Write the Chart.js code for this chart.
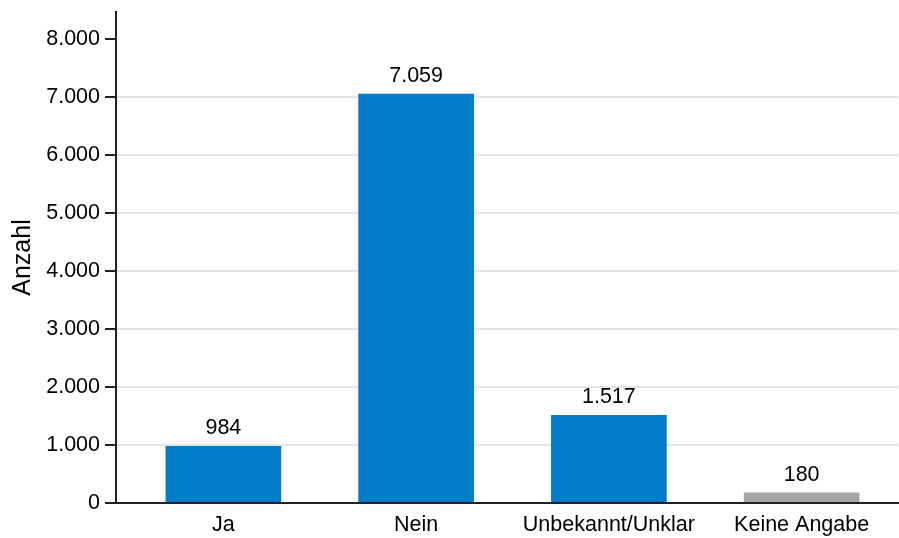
<!DOCTYPE html>
<html lang="de">
<head>
  <meta charset="UTF-8" />
  <title>Anzahl</title>
  <script src="https://cdn.jsdelivr.net/npm/chart.js"></script>
  <style>
    html,body { margin:0; padding:0; background:#fff; }
    #box      { width:899px; height:538px; }
  </style>
</head>
<body>
<div id="box"><canvas id="chart"></canvas></div>

<script>
  /* ---------- data ---------- */
  const categories = ['Ja', 'Nein', 'Unbekannt/Unklar', 'Keine Angabe'];
  const counts     = [984, 7059, 1517, 180];
  const barColors  = ['#007CC8', '#007CC8', '#007CC8', '#A6A6A6'];
  const yTicks     = [0, 1000, 2000, 3000, 4000, 5000, 6000, 7000, 8000];
  const yMax       = 8470;

  /* ---------- helpers ---------- */
  const FONT = '"Liberation Sans", Arial, sans-serif';
  const SIZE = 21.5;
  const fmt  = v => String(Math.round(v)).replace(/\B(?=(\d{3})+(?!\d))/g, '.');

  // value labels above the bars
  const valueLabels = {
    id: 'valueLabels',
    afterDatasetsDraw(chart) {
      const ctx = chart.ctx;
      const meta = chart.getDatasetMeta(0);
      ctx.save();
      ctx.font = SIZE + 'px ' + FONT;
      ctx.fillStyle = '#000';
      ctx.textAlign = 'center';
      ctx.textBaseline = 'alphabetic';
      meta.data.forEach((bar, i) => {
        ctx.fillText(fmt(counts[i]), bar.x, bar.y - 12);
      });
      ctx.restore();
    }
  };

  // categories start a little right of the y axis line
  const shiftX = {
    id: 'shiftX',
    afterLayout(chart) {
      const x = chart.scales.x;
      x._startPixel += 11;
      x._length -= 11;
    }
  };

  new Chart(document.getElementById('chart'), {
    type: 'bar',
    data: {
      labels: categories,
      datasets: [{
        data: counts,
        backgroundColor: barColors,
        borderWidth: 0,
        barPercentage: 0.6,
        categoryPercentage: 1.0
      }]
    },
    options: {
      responsive: true,
      maintainAspectRatio: false,
      animation: false,
      layout: { padding: { top: 12, right: 1, left: 0, bottom: 0 } },
      plugins: { legend: { display: false }, tooltip: { enabled: false } },
      scales: {
        x: {
          grid: { display: false },
          border: { display: true, color: '#222', width: 2 },
          ticks: { color: '#000', font: { family: FONT, size: SIZE }, padding: 1, maxRotation: 0 },
          afterFit: s => { s.height = 35; }
        },
        y: {
          min: 0,
          max: yMax,
          afterBuildTicks: s => { s.ticks = yTicks.map(v => ({ value: v })); },
          grid: {
            color: c => (c.tick && (c.tick.value === 0 || c.tick.value === 8000)) ? 'rgba(0,0,0,0)' : '#E5E5E5',
            lineWidth: 2,
            tickLength: 11,
            tickColor: '#222',
            tickWidth: 2
          },
          border: { display: true, color: '#222', width: 2 },
          ticks: {
            color: '#000',
            font: { family: FONT, size: SIZE },
            padding: 5,
            callback: v => fmt(v)
          },
          title: {
            display: true,
            text: 'Anzahl',
            color: '#000',
            font: { family: FONT, size: 25 },
            padding: { top: 8, bottom: 0 }
          },
          afterFit: s => { s.width = 116; s.paddingTop = 0; s.paddingBottom = 0; }
        }
      }
    },
    plugins: [shiftX, valueLabels]
  });
</script>
</body>
</html>
